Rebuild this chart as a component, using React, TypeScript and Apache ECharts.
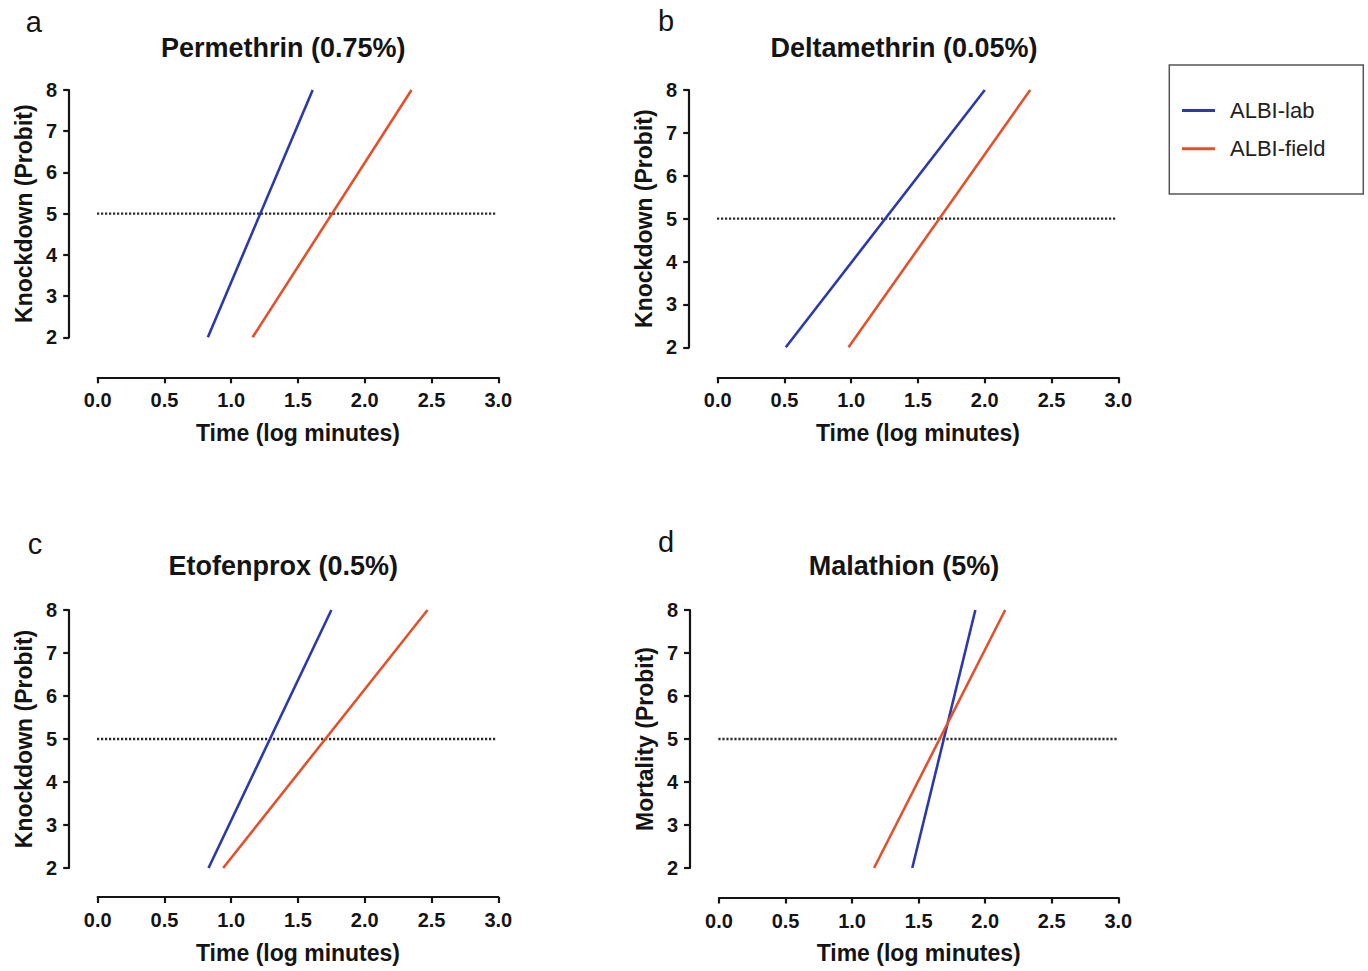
import React, { useEffect, useRef } from 'react';
import * as echarts from 'echarts';

// ---------------- data ----------------
const panelLetters = ['a', 'b', 'c', 'd'];
const panelTitles = ['Permethrin (0.75%)', 'Deltamethrin (0.05%)', 'Etofenprox (0.5%)', 'Malathion (5%)'];
const yAxisNames = ['Knockdown (Probit)', 'Knockdown (Probit)', 'Knockdown (Probit)', 'Mortality (Probit)'];
const xAxisName = 'Time (log minutes)';
const seriesNames = ['ALBI-lab', 'ALBI-field'];

const xMin = 0;
const xMax = 3;
const xStep = 0.5;
const yMin = 2;
const yMax = 8;
const yStep = 1;

// [log minutes, probit] end points of each fitted line
const albiLab = [
  [[0.825, 2], [1.61, 8]],
  [[0.51, 2], [2.0, 8]],
  [[0.83, 2], [1.75, 8]],
  [[1.452, 2], [1.926, 8]],
];
const albiField = [
  [[1.16, 2], [2.35, 8]],
  [[0.98, 2], [2.34, 8]],
  [[0.94, 2], [2.47, 8]],
  [[1.165, 2], [2.15, 8]],
];
// probit 5 (50%) reference line, from the y axis to the end of the x axis
const referenceLine = [[-0.215, 5], [2.99, 5]];

// ---------------- layout ----------------
const layout = [
  { left: 97.7, top: 90, width: 400.6, height: 247.3, yOff: 28.5, xOff: 40, titleX: 283.3, titleY: 47.5, letterX: 33.7, letterY: 22 },
  { left: 717.7, top: 90, width: 400.6, height: 257.3, yOff: 28.5, xOff: 30, titleX: 904, titleY: 47.5, letterX: 666, letterY: 21 },
  { left: 97.7, top: 610, width: 400.6, height: 258, yOff: 28.5, xOff: 29, titleX: 283.3, titleY: 566, letterX: 35, letterY: 544 },
  { left: 719, top: 610, width: 399.3, height: 258, yOff: 29, xOff: 29.5, titleX: 904, titleY: 566, letterX: 666, letterY: 542 },
];

const FONT = '"Liberation Sans", Arial, Helvetica, sans-serif';
const INK = '#141414';
const BLUE = '#2b3aa8';
const RED = '#e2512c';

function buildOption() {
  const grid: any[] = [];
  const xAxis: any[] = [];
  const yAxis: any[] = [];
  const series: any[] = [];
  const graphic: any[] = [];

  layout.forEach((L, i) => {
    grid.push({ left: L.left, top: L.top, width: L.width, height: L.height, containLabel: false });
    xAxis.push({
      type: 'value',
      gridIndex: i,
      min: xMin,
      max: xMax,
      interval: xStep,
      position: 'bottom',
      offset: L.xOff,
      axisLine: { show: true, onZero: false, lineStyle: { color: INK, width: 2.2 } },
      axisTick: { show: true, length: 6, lineStyle: { color: INK, width: 2.2 } },
      axisLabel: {
        formatter: (v: number) => v.toFixed(1),
        fontSize: 20,
        fontWeight: 'bold',
        fontFamily: FONT,
        color: INK,
        margin: 13,
      },
      splitLine: { show: false },
      name: xAxisName,
      nameLocation: 'middle',
      nameGap: 44,
      nameTextStyle: { fontSize: 23, fontWeight: 'bold', fontFamily: FONT, color: INK },
    });
    yAxis.push({
      type: 'value',
      gridIndex: i,
      min: yMin,
      max: yMax,
      interval: yStep,
      position: 'left',
      offset: L.yOff,
      axisLine: { show: true, onZero: false, lineStyle: { color: INK, width: 2.2 } },
      axisTick: { show: true, length: 6, lineStyle: { color: INK, width: 2.2 } },
      axisLabel: { fontSize: 20, fontWeight: 'bold', fontFamily: FONT, color: INK, margin: 12 },
      splitLine: { show: false },
      name: yAxisNames[i],
      nameLocation: 'middle',
      nameGap: 34,
      nameTextStyle: { fontSize: 23, fontWeight: 'bold', fontFamily: FONT, color: INK },
    });
    series.push({
      type: 'line',
      name: 'Probit 5',
      xAxisIndex: i,
      yAxisIndex: i,
      data: referenceLine,
      symbol: 'none',
      clip: false,
      silent: true,
      z: 1,
      lineStyle: { color: '#2a2a2a', width: 2.4, type: [2.2, 1.8] },
    });
    series.push({
      type: 'line',
      name: seriesNames[0],
      xAxisIndex: i,
      yAxisIndex: i,
      data: albiLab[i],
      symbol: 'none',
      color: BLUE,
      z: 3,
      lineStyle: { color: BLUE, width: 2.6 },
    });
    series.push({
      type: 'line',
      name: seriesNames[1],
      xAxisIndex: i,
      yAxisIndex: i,
      data: albiField[i],
      symbol: 'none',
      color: RED,
      z: 3,
      lineStyle: { color: RED, width: 2.6 },
    });
    graphic.push({
      type: 'text',
      x: L.titleX,
      y: L.titleY,
      style: {
        text: panelTitles[i],
        fontSize: 27,
        fontWeight: 'bold',
        fontFamily: FONT,
        fill: INK,
        align: 'center',
        verticalAlign: 'middle',
        textAlign: 'center',
        textVerticalAlign: 'middle',
      },
    });
    graphic.push({
      type: 'text',
      x: L.letterX,
      y: L.letterY,
      style: {
        text: panelLetters[i],
        fontSize: 29,
        fontWeight: 'normal',
        fontFamily: FONT,
        fill: INK,
        align: 'center',
        verticalAlign: 'middle',
        textAlign: 'center',
        textVerticalAlign: 'middle',
      },
    });
  });

  graphic.push({
    type: 'rect',
    shape: { x: 1169.3, y: 65, width: 194, height: 129 },
    style: { fill: 'none', stroke: '#555', lineWidth: 1.5 },
    z: 0,
  });

  return {
    animation: false,
    backgroundColor: '#ffffff',
    textStyle: { fontFamily: FONT },
    grid,
    xAxis,
    yAxis,
    series,
    graphic,
    legend: {
      data: seriesNames,
      orient: 'vertical',
      left: 1182,
      top: 99.5,
      padding: 0,
      itemWidth: 33,
      itemHeight: 3,
      itemGap: 16.3,
      icon: 'rect',
      selectedMode: false,
      textStyle: { fontSize: 22, color: '#222', fontFamily: FONT, padding: [0, 0, 0, 10] },
    },
  };
}

export default function App() {
  const ref = useRef<HTMLDivElement>(null);
  useEffect(() => {
    if (!ref.current) return;
    const chart = echarts.init(ref.current, undefined, { renderer: 'svg' });
    chart.setOption(buildOption() as any);
    return () => chart.dispose();
  }, []);
  return (
    <div
      ref={ref}
      style={{ position: 'absolute', left: 0, top: 0, width: 1368, height: 971, background: '#fff' }}
    />
  );
}
